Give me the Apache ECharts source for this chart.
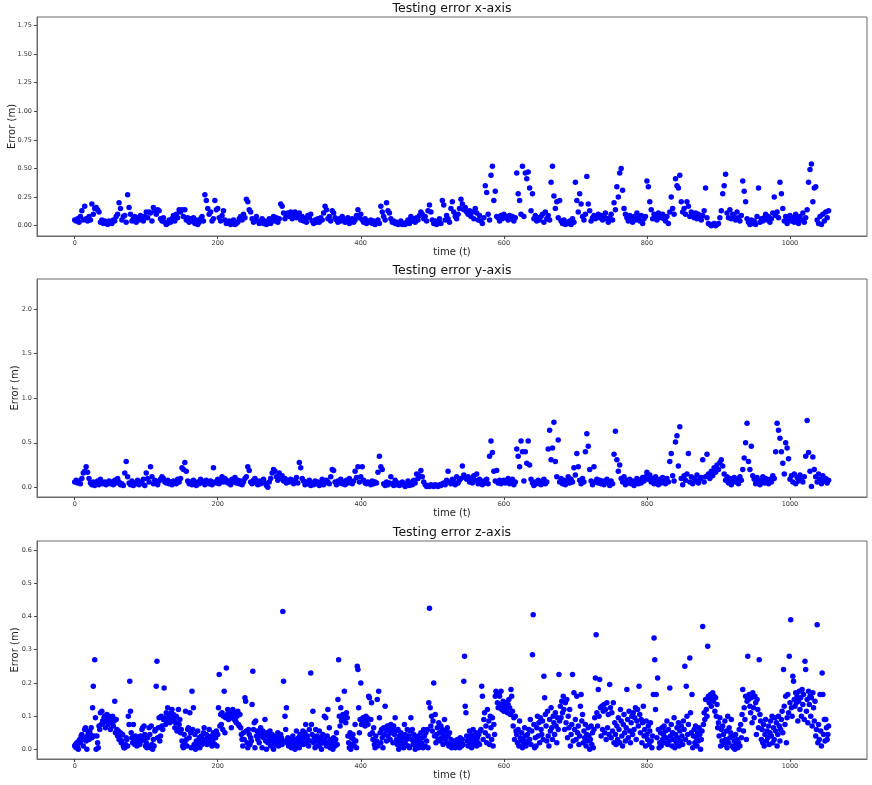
<!DOCTYPE html>
<html>
<head>
<meta charset="utf-8">
<script src="https://cdn.jsdelivr.net/npm/echarts@6/dist/echarts.min.js"></script>
<style>
  html, body { margin: 0; padding: 0; background: #fff; }
  #chart { width: 872px; height: 785px; }
</style>
</head>
<body>
<div id="chart"></div>
<script>
// testing error per axis, x and y sampled every 2 steps, z every step
const xStep = 2;
const xErr = [
  0.05,0.04,0.06,0.03,0.08,0.13,0.05,0.17,0.06,0.04,0.08,0.05,0.19,0.10,0.15,0.16,0.14,0.12,0.03,0.05,0.02,0.04,0.03,0.01,0.04,
  0.03,0.02,0.05,0.04,0.08,0.10,0.20,0.15,0.05,0.08,0.09,0.03,0.27,0.16,0.10,0.04,0.06,0.08,0.03,0.07,0.05,0.09,0.06,0.04,0.08,
  0.12,0.07,0.12,0.11,0.04,0.16,0.13,0.10,0.14,0.13,0.06,0.04,0.07,0.03,0.01,0.02,0.05,0.03,0.06,0.09,0.04,0.10,0.07,0.14,0.12,
  0.14,0.08,0.14,0.05,0.07,0.03,0.06,0.04,0.07,0.02,0.05,0.01,0.03,0.06,0.08,0.04,0.27,0.22,0.15,0.10,0.12,0.04,0.06,0.22,0.14,
  0.15,0.07,0.04,0.09,0.13,0.05,0.02,0.03,0.04,0.01,0.02,0.05,0.01,0.02,0.03,0.06,0.08,0.05,0.10,0.07,0.23,0.21,0.14,0.12,0.06,
  0.03,0.05,0.08,0.04,0.02,0.03,0.06,0.02,0.04,0.01,0.03,0.06,0.02,0.05,0.08,0.04,0.07,0.03,0.06,0.19,0.17,0.11,0.06,0.09,0.11,
  0.08,0.12,0.06,0.10,0.12,0.07,0.09,0.11,0.05,0.08,0.04,0.06,0.03,0.09,0.07,0.10,0.04,0.02,0.05,0.03,0.06,0.03,0.07,0.05,0.11,
  0.17,0.14,0.06,0.08,0.04,0.13,0.11,0.07,0.05,0.03,0.06,0.04,0.08,0.06,0.03,0.05,0.07,0.02,0.04,0.06,0.03,0.05,0.09,0.14,0.07,
  0.10,0.05,0.03,0.06,0.02,0.04,0.03,0.05,0.02,0.04,0.01,0.03,0.05,0.02,0.17,0.12,0.08,0.05,0.20,0.13,0.11,0.06,0.03,0.04,0.02,
  0.03,0.01,0.02,0.04,0.01,0.02,0.01,0.03,0.05,0.02,0.08,0.04,0.06,0.03,0.07,0.05,0.09,0.12,0.10,0.06,0.08,0.04,0.13,0.18,0.12,
  0.05,0.02,0.04,0.01,0.03,0.06,0.02,0.22,0.18,0.05,0.09,0.06,0.03,0.15,0.21,0.12,0.08,0.06,0.10,0.15,0.23,0.19,0.14,0.16,0.12,
  0.10,0.13,0.08,0.12,0.06,0.15,0.11,0.05,0.09,0.04,0.02,0.07,0.35,0.29,0.10,0.05,0.44,0.52,0.22,0.30,0.08,0.07,0.04,0.09,0.06,
  0.10,0.08,0.07,0.05,0.09,0.06,0.08,0.04,0.07,0.46,0.28,0.22,0.10,0.52,0.08,0.46,0.41,0.47,0.33,0.13,0.28,0.06,0.09,0.04,0.07,
  0.05,0.08,0.10,0.03,0.12,0.06,0.09,0.05,0.38,0.52,0.26,0.15,0.21,0.07,0.22,0.04,0.02,0.05,0.01,0.03,0.02,0.04,0.01,0.06,0.03,
  0.38,0.22,0.12,0.28,0.19,0.08,0.05,0.10,0.43,0.19,0.13,0.04,0.07,0.09,0.06,0.08,0.10,0.07,0.09,0.05,0.08,0.11,0.06,0.03,0.07,
  0.10,0.05,0.20,0.14,0.34,0.25,0.46,0.50,0.31,0.15,0.10,0.07,0.04,0.09,0.06,0.03,0.08,0.05,0.11,0.07,0.04,0.09,0.02,0.06,0.08,
  0.39,0.34,0.21,0.14,0.06,0.10,0.08,0.05,0.11,0.09,0.07,0.10,0.06,0.04,0.08,0.02,0.12,0.25,0.15,0.10,0.41,0.35,0.33,0.44,0.21,
  0.12,0.15,0.10,0.21,0.17,0.08,0.12,0.09,0.07,0.11,0.06,0.10,0.08,0.05,0.09,0.13,0.33,0.07,0.02,0.01,0.00,0.01,0.02,0.00,0.01,
  0.02,0.07,0.13,0.28,0.35,0.45,0.11,0.07,0.14,0.06,0.10,0.08,0.05,0.12,0.07,0.04,0.09,0.39,0.30,0.21,0.06,0.03,0.01,0.05,0.02,
  0.04,0.01,0.08,0.33,0.03,0.06,0.04,0.07,0.10,0.05,0.08,0.03,0.06,0.11,0.25,0.09,0.12,0.07,0.38,0.28,0.15,0.04,0.08,0.02,0.06,
  0.09,0.04,0.07,0.03,0.10,0.06,0.02,0.08,0.05,0.11,0.03,0.07,0.14,0.38,0.49,0.54,0.21,0.33,0.34,0.05,0.02,0.08,0.01,0.10,0.04,
  0.12,0.07,0.13
];

const yStep = 2;
const yErr = [
  0.06,0.08,0.05,0.07,0.04,0.10,0.16,0.18,0.23,0.17,0.10,0.05,0.03,0.06,0.02,0.04,0.07,0.03,0.09,0.05,0.04,0.06,0.03,0.05,0.07,
  0.04,0.06,0.03,0.08,0.05,0.10,0.06,0.03,0.04,0.02,0.16,0.29,0.12,0.05,0.03,0.07,0.02,0.05,0.04,0.08,0.03,0.06,0.05,0.09,0.02,
  0.16,0.10,0.06,0.23,0.12,0.04,0.08,0.05,0.03,0.07,0.09,0.12,0.10,0.06,0.05,0.08,0.04,0.06,0.03,0.07,0.05,0.04,0.09,0.06,0.10,
  0.22,0.20,0.28,0.18,0.07,0.04,0.06,0.03,0.08,0.05,0.02,0.06,0.04,0.09,0.07,0.05,0.03,0.08,0.06,0.04,0.07,0.03,0.22,0.06,0.05,
  0.09,0.04,0.07,0.12,0.06,0.10,0.08,0.05,0.07,0.03,0.09,0.06,0.11,0.05,0.08,0.04,0.07,0.03,0.06,0.10,0.12,0.23,0.19,0.06,0.04,
  0.08,0.10,0.05,0.03,0.07,0.04,0.06,0.09,0.05,0.02,0.00,0.06,0.10,0.16,0.20,0.18,0.12,0.08,0.16,0.10,0.13,0.07,0.10,0.05,0.08,
  0.06,0.09,0.07,0.04,0.08,0.11,0.05,0.28,0.22,0.10,0.07,0.03,0.06,0.04,0.08,0.02,0.05,0.03,0.07,0.04,0.06,0.02,0.05,0.09,0.03,
  0.05,0.08,0.06,0.04,0.12,0.20,0.19,0.06,0.03,0.07,0.05,0.09,0.04,0.06,0.03,0.08,0.05,0.10,0.06,0.04,0.07,0.18,0.11,0.23,0.06,
  0.12,0.23,0.08,0.05,0.04,0.06,0.05,0.03,0.07,0.04,0.06,0.05,0.17,0.35,0.23,0.20,0.04,0.02,0.06,0.03,0.05,0.12,0.04,0.02,0.08,
  0.03,0.05,0.02,0.04,0.06,0.03,0.01,0.04,0.07,0.02,0.05,0.03,0.08,0.05,0.15,0.10,0.13,0.19,0.12,0.06,0.03,0.01,0.02,0.01,0.03,
  0.02,0.01,0.03,0.02,0.01,0.03,0.02,0.04,0.05,0.03,0.08,0.18,0.06,0.04,0.09,0.07,0.03,0.12,0.05,0.08,0.10,0.24,0.14,0.11,0.09,
  0.12,0.06,0.10,0.05,0.13,0.08,0.15,0.04,0.09,0.06,0.03,0.07,0.05,0.09,0.04,0.35,0.52,0.39,0.18,0.07,0.19,0.05,0.08,0.04,0.06,
  0.08,0.05,0.07,0.10,0.04,0.06,0.09,0.03,0.06,0.43,0.35,0.23,0.52,0.40,0.07,0.40,0.27,0.52,0.25,0.09,0.05,0.02,0.06,0.04,0.08,
  0.05,0.03,0.07,0.09,0.04,0.06,0.43,0.64,0.31,0.44,0.73,0.29,0.12,0.53,0.06,0.10,0.04,0.08,0.03,0.07,0.12,0.05,0.09,0.06,0.22,
  0.14,0.38,0.23,0.08,0.04,0.10,0.06,0.40,0.60,0.46,0.20,0.07,0.03,0.23,0.06,0.09,0.05,0.08,0.04,0.07,0.03,0.06,0.09,0.05,0.02,
  0.07,0.04,0.37,0.63,0.31,0.18,0.25,0.10,0.06,0.12,0.03,0.08,0.05,0.09,0.04,0.07,0.02,0.06,0.10,0.04,0.08,0.05,0.11,0.07,0.12,
  0.17,0.09,0.14,0.06,0.10,0.04,0.12,0.07,0.03,0.09,0.05,0.11,0.08,0.04,0.10,0.06,0.29,0.38,0.13,0.07,0.51,0.58,0.24,0.68,0.10,
  0.03,0.13,0.08,0.15,0.38,0.06,0.12,0.04,0.10,0.07,0.14,0.05,0.09,0.11,0.31,0.06,0.12,0.37,0.15,0.10,0.18,0.13,0.22,0.17,0.25,
  0.20,0.28,0.31,0.24,0.15,0.08,0.12,0.05,0.10,0.03,0.07,0.11,0.06,0.09,0.04,0.12,0.08,0.20,0.33,0.50,0.72,0.29,0.20,0.46,0.13,
  0.09,0.04,0.11,0.06,0.03,0.08,0.12,0.05,0.10,0.07,0.04,0.09,0.06,0.13,0.10,0.40,0.72,0.64,0.55,0.40,0.27,0.15,0.50,0.44,0.32,
  0.09,0.13,0.06,0.15,0.04,0.11,0.07,0.14,0.10,0.06,0.12,0.35,0.75,0.39,0.18,0.01,0.34,0.20,0.12,0.06,0.15,0.09,0.04,0.13,0.07,
  0.10,0.05,0.08
];

const zStep = 1;
const zErr = [
  0.010,0.015,0.005,0.020,0.010,0.000,0.025,0.030,0.020,0.040,0.045,0.030,0.010,0.035,0.060,0.065,0.025,0.000,0.040,0.050,
  0.030,0.055,0.045,0.065,0.035,0.125,0.190,0.040,0.270,0.095,0.000,0.040,0.020,0.005,0.070,0.060,0.110,0.075,0.115,0.085,
  0.080,0.095,0.100,0.065,0.090,0.105,0.085,0.075,0.100,0.090,
  0.060,0.095,0.080,0.100,0.070,0.085,0.145,0.050,0.090,0.060,0.040,0.055,0.030,0.035,0.050,0.020,0.025,0.045,0.010,0.005,
  0.005,0.015,0.035,0.030,0.010,0.100,0.075,0.205,0.115,0.050,0.035,0.020,0.075,0.030,0.015,0.040,0.025,0.010,0.035,0.020,
  0.030,0.015,0.040,0.025,0.060,0.065,0.030,0.070,0.045,0.010,
  0.020,0.005,0.035,0.010,0.065,0.045,0.005,0.070,0.015,0.000,0.030,0.010,0.055,0.060,0.190,0.265,0.035,0.065,0.095,0.025,
  0.040,0.100,0.070,0.060,0.090,0.185,0.095,0.075,0.110,0.090,0.125,0.085,0.100,0.080,0.095,0.110,0.120,0.085,0.105,0.090,
  0.065,0.080,0.100,0.055,0.060,0.120,0.075,0.090,0.050,0.060,
  0.025,0.010,0.005,0.045,0.020,0.115,0.030,0.010,0.060,0.065,0.035,0.110,0.050,0.005,0.175,0.060,0.125,0.015,0.045,0.000,
  0.025,0.010,0.055,0.020,0.035,0.005,0.025,0.040,0.015,0.030,0.050,0.065,0.020,0.030,0.045,0.015,0.035,0.025,0.060,0.020,
  0.030,0.040,0.010,0.025,0.050,0.045,0.015,0.035,0.055,0.010,
  0.045,0.125,0.225,0.070,0.105,0.075,0.110,0.060,0.100,0.175,0.050,0.095,0.245,0.105,0.120,0.090,0.100,0.110,0.095,0.065,
  0.105,0.120,0.100,0.090,0.110,0.085,0.080,0.100,0.115,0.075,0.070,0.105,0.065,0.045,0.030,0.010,0.050,0.030,0.155,0.145,
  0.055,0.020,0.005,0.060,0.045,0.015,0.035,0.025,0.135,0.235,
  0.060,0.080,0.005,0.085,0.040,0.055,0.030,0.050,0.020,0.045,0.065,0.040,0.005,0.055,0.035,0.045,0.090,0.025,0.000,0.050,
  0.020,0.040,0.035,0.055,0.010,0.025,0.045,0.030,0.000,0.020,0.040,0.015,0.035,0.025,0.050,0.010,0.030,0.020,0.045,0.035,
  0.015,0.415,0.205,0.025,0.100,0.060,0.125,0.020,0.035,0.010,
  0.030,0.015,0.025,0.005,0.020,0.040,0.010,0.030,0.000,0.015,0.055,0.025,0.010,0.035,0.005,0.045,0.020,0.040,0.025,0.055,
  0.015,0.035,0.050,0.075,0.020,0.040,0.030,0.010,0.060,0.025,0.230,0.075,0.045,0.115,0.020,0.035,0.005,0.060,0.025,0.040,
  0.010,0.030,0.055,0.015,0.035,0.000,0.025,0.045,0.020,0.100,
  0.030,0.095,0.010,0.040,0.120,0.020,0.065,0.005,0.030,0.015,0.025,0.000,0.035,0.020,0.010,0.030,0.050,0.015,0.150,0.270,
  0.100,0.070,0.125,0.085,0.095,0.105,0.090,0.175,0.100,0.080,0.110,0.095,0.040,0.020,0.005,0.050,0.000,0.035,0.015,0.045,
  0.030,0.010,0.075,0.025,0.005,0.250,0.240,0.125,0.050,0.090,
  0.200,0.075,0.085,0.095,0.080,0.090,0.070,0.100,0.085,0.095,0.075,0.160,0.155,0.045,0.090,0.140,0.050,0.030,0.065,0.015,
  0.005,0.040,0.025,0.150,0.010,0.175,0.095,0.050,0.020,0.060,0.035,0.005,0.065,0.045,0.130,0.060,0.025,0.070,0.040,0.055,
  0.065,0.030,0.075,0.050,0.060,0.020,0.070,0.045,0.095,0.055,
  0.030,0.015,0.060,0.000,0.040,0.025,0.050,0.010,0.035,0.020,0.005,0.075,0.045,0.015,0.030,0.060,0.010,0.040,0.005,0.055,
  0.095,0.030,0.060,0.015,0.045,0.020,0.000,0.035,0.010,0.025,0.040,0.005,0.030,0.015,0.050,0.020,0.035,0.005,0.060,0.040,
  0.010,0.050,0.025,0.060,0.005,0.140,0.425,0.125,0.070,0.100,
  0.055,0.085,0.200,0.040,0.105,0.020,0.045,0.065,0.030,0.080,0.050,0.025,0.070,0.035,0.060,0.015,0.045,0.090,0.030,0.055,
  0.020,0.065,0.040,0.010,0.050,0.015,0.030,0.005,0.020,0.010,0.025,0.015,0.005,0.020,0.010,0.030,0.015,0.025,0.005,0.035,
  0.020,0.010,0.030,0.015,0.205,0.280,0.130,0.110,0.040,0.025,
  0.010,0.035,0.055,0.020,0.045,0.005,0.030,0.060,0.015,0.040,0.025,0.050,0.010,0.035,0.020,0.045,0.015,0.055,0.060,0.190,
  0.160,0.030,0.090,0.110,0.050,0.070,0.020,0.120,0.040,0.085,0.015,0.100,0.065,0.030,0.095,0.010,0.075,0.045,0.160,0.175,
  0.170,0.140,0.125,0.165,0.160,0.135,0.175,0.120,0.130,0.145,
  0.115,0.130,0.125,0.140,0.120,0.110,0.135,0.150,0.125,0.105,0.180,0.160,0.115,0.070,0.095,0.030,0.100,0.055,0.045,0.020,
  0.060,0.010,0.085,0.035,0.025,0.050,0.005,0.030,0.015,0.065,0.040,0.010,0.020,0.045,0.025,0.060,0.030,0.090,0.015,0.055,
  0.285,0.405,0.075,0.005,0.035,0.010,0.065,0.100,0.040,0.080,
  0.020,0.095,0.060,0.045,0.085,0.030,0.220,0.155,0.105,0.070,0.025,0.115,0.040,0.010,0.090,0.055,0.125,0.065,0.030,0.100,
  0.080,0.045,0.110,0.070,0.020,0.095,0.060,0.225,0.085,0.130,0.095,0.145,0.110,0.160,0.120,0.060,0.140,0.080,0.150,0.035,
  0.100,0.065,0.120,0.010,0.045,0.075,0.225,0.025,0.170,0.060,
  0.090,0.030,0.160,0.050,0.070,0.015,0.040,0.130,0.165,0.085,0.105,0.020,0.055,0.035,0.075,0.010,0.045,0.025,0.065,0.040,
  0.000,0.030,0.070,0.015,0.050,0.005,0.060,0.095,0.215,0.345,0.110,0.070,0.180,0.100,0.210,0.125,0.040,0.130,0.060,0.115,
  0.135,0.050,0.120,0.030,0.140,0.065,0.105,0.045,0.195,0.125,
  0.035,0.110,0.055,0.140,0.020,0.080,0.045,0.015,0.070,0.030,0.095,0.060,0.020,0.120,0.085,0.040,0.010,0.075,0.105,0.050,
  0.025,0.065,0.180,0.090,0.035,0.115,0.055,0.020,0.080,0.100,0.045,0.110,0.060,0.095,0.125,0.030,0.085,0.120,0.070,0.190,
  0.105,0.050,0.090,0.020,0.080,0.130,0.040,0.060,0.010,0.085,
  0.045,0.030,0.070,0.015,0.055,0.080,0.025,0.005,0.040,0.165,0.335,0.270,0.120,0.165,0.035,0.215,0.060,0.005,0.020,0.050,
  0.010,0.065,0.030,0.045,0.070,0.020,0.055,0.035,0.085,0.015,0.060,0.025,0.185,0.040,0.075,0.010,0.050,0.030,0.095,0.005,
  0.045,0.020,0.065,0.035,0.080,0.010,0.055,0.025,0.070,0.040,
  0.015,0.085,0.060,0.250,0.030,0.190,0.100,0.045,0.075,0.020,0.275,0.110,0.050,0.165,0.005,0.040,0.060,0.020,0.070,0.035,
  0.010,0.050,0.025,0.065,0.045,0.000,0.030,0.055,0.370,0.075,0.110,0.090,0.150,0.120,0.100,0.310,0.160,0.140,0.155,0.165,
  0.130,0.150,0.170,0.145,0.160,0.115,0.155,0.100,0.135,0.065,
  0.080,0.040,0.095,0.010,0.060,0.025,0.070,0.045,0.015,0.085,0.030,0.055,0.005,0.100,0.020,0.065,0.035,0.050,0.090,0.010,
  0.040,0.005,0.025,0.000,0.045,0.015,0.030,0.005,0.020,0.060,0.010,0.075,0.035,0.105,0.180,0.055,0.125,0.090,0.160,0.030,
  0.145,0.280,0.150,0.165,0.130,0.110,0.155,0.080,0.170,0.125,
  0.095,0.160,0.140,0.045,0.150,0.120,0.065,0.270,0.105,0.085,0.030,0.060,0.020,0.075,0.010,0.045,0.090,0.025,0.055,0.035,
  0.070,0.015,0.050,0.085,0.040,0.100,0.020,0.065,0.030,0.095,0.055,0.080,0.010,0.045,0.100,0.070,0.025,0.060,0.090,0.115,
  0.050,0.240,0.130,0.075,0.160,0.020,0.095,0.165,0.110,0.280,
  0.140,0.390,0.125,0.100,0.220,0.205,0.150,0.130,0.170,0.140,0.160,0.085,0.145,0.175,0.120,0.155,0.100,0.180,0.135,0.165,
  0.090,0.265,0.240,0.115,0.150,0.080,0.175,0.135,0.160,0.100,0.155,0.070,0.170,0.125,0.085,0.145,0.040,0.060,0.375,0.020,
  0.075,0.030,0.165,0.055,0.010,0.230,0.165,0.045,0.090,0.025,
  0.090,0.065,0.030,0.045,0.070
];

const titles = ['Testing error x-axis', 'Testing error y-axis', 'Testing error z-axis'];
const timeTicks = [0, 200, 400, 600, 800, 1000];
const xErrTicks = [0, 0.25, 0.5, 0.75, 1, 1.25, 1.5, 1.75];
const yErrTicks = [0, 0.5, 1, 1.5, 2];
const zErrTicks = [0, 0.1, 0.2, 0.3, 0.4, 0.5, 0.6];

const panels = [
  { values: xErr, step: xStep, ticks: xErrTicks, digits: 2, min: -0.09, max: 1.823, top: 17, height: 219, nameGap: 20 },
  { values: yErr, step: yStep, ticks: yErrTicks, digits: 1, min: -0.108, max: 2.336, top: 279, height: 218, nameGap: 17 },
  { values: zErr, step: zStep, ticks: zErrTicks, digits: 1, min: -0.029, max: 0.627, top: 541, height: 218, nameGap: 17 }
];

const font = 'DejaVu Sans';
const lineCol = '#6b6b6b';
const chart = echarts.init(document.getElementById('chart'));

const grid = [], xAxis = [], yAxis = [], series = [], graphic = [];
panels.forEach(function (p, i) {
  grid.push({
    left: 37, right: 5, top: p.top, height: p.height,
    show: true, borderColor: lineCol, borderWidth: 1, backgroundColor: '#fff',
    outerBoundsMode: 'none'
  });
  xAxis.push({
    gridIndex: i, type: 'value', min: -52.7, max: 1107.7,
    name: 'time (t)', nameLocation: 'middle', nameGap: 11, nameMoveOverlap: false,
    nameTextStyle: { fontFamily: font, fontSize: 10, color: '#222' },
    axisLine: { show: true, onZero: false, lineStyle: { color: lineCol, width: 1 } },
    axisTick: { show: true, length: 3, customValues: timeTicks, lineStyle: { color: '#444' } },
    axisLabel: {
      customValues: timeTicks, margin: 4, fontFamily: font, fontSize: 6.5, color: '#333',
      formatter: function (v) { return String(v); }
    },
    splitLine: { show: false }
  });
  yAxis.push({
    gridIndex: i, type: 'value', min: p.min, max: p.max,
    name: 'Error (m)', nameLocation: 'middle', nameGap: p.nameGap, nameMoveOverlap: false,
    nameTextStyle: { fontFamily: font, fontSize: 10, color: '#222' },
    axisLine: { show: true, onZero: false, lineStyle: { color: lineCol, width: 1 } },
    axisTick: { show: true, length: 3, customValues: p.ticks, lineStyle: { color: '#444' } },
    axisLabel: {
      customValues: p.ticks, margin: 5, fontFamily: font, fontSize: 6.5, color: '#333',
      formatter: function (v) { return v.toFixed(p.digits); }
    },
    splitLine: { show: false }
  });
  series.push({
    type: 'scatter', xAxisIndex: i, yAxisIndex: i,
    symbol: 'circle', symbolSize: 5.5,
    itemStyle: { color: '#0000ff', opacity: 1 },
    data: p.values.map(function (v, k) { return [k * p.step, v]; })
  });
  graphic.push({
    type: 'text', x: 452, y: p.top - 15,
    style: { text: titles[i], font: '12.5px "DejaVu Sans"', fill: '#111', textAlign: 'center', textVerticalAlign: 'top' }
  });
});

chart.setOption({
  animation: false,
  backgroundColor: '#fff',
  grid: grid,
  xAxis: xAxis,
  yAxis: yAxis,
  series: series,
  graphic: graphic
});
</script>
</body>
</html>
